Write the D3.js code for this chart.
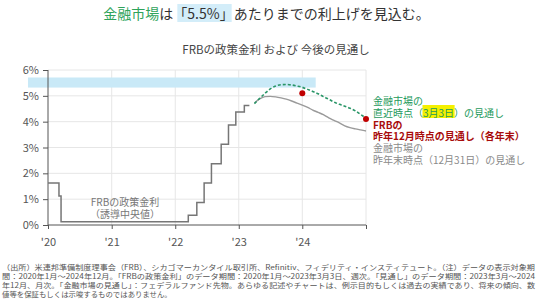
<!DOCTYPE html>
<html>
<head>
<meta charset="utf-8">
<script src="https://cdn.jsdelivr.net/npm/d3@7"></script>
<style>
  body { margin: 0; background: #fff; }
  svg { display: block; font-family: "Noto Sans CJK JP", "Noto Sans", sans-serif; }
</style>
</head>
<body>
<div id="chart"></div>
<script>
// ---- data ----
var yTicks = [0, 1, 2, 3, 4, 5, 6];
var xTickYears = [2020, 2021, 2022, 2023, 2024, 2025];
var xTickLabels = ["'20", "'21", "'22", "'23", "'24", ""];

// FRB policy rate (target midpoint), change dates
var fedDates = ["2020-01-01", "2020-03-04", "2020-03-16", "2022-03-17", "2022-05-05", "2022-06-16",
                "2022-07-28", "2022-09-22", "2022-11-03", "2022-12-15", "2023-02-02", "2023-03-03"];
var fedRates = [1.625, 1.125, 0.125, 0.375, 0.875, 1.625, 2.375, 3.125, 3.875, 4.375, 4.625, 4.625];

// outlook months (month end), Mar 2023 - Dec 2024
var outlookMonths = ["2023-04-01", "2023-05-01", "2023-06-01", "2023-07-01", "2023-08-01", "2023-09-01",
                     "2023-10-01", "2023-11-01", "2023-12-01", "2024-01-01", "2024-02-01", "2024-03-01",
                     "2024-04-01", "2024-05-01", "2024-06-01", "2024-07-01", "2024-08-01", "2024-09-01",
                     "2024-10-01", "2024-11-01", "2024-12-01", "2025-01-01"];
// market outlook as of Mar 3
var marketNow = [4.70, 4.90, 5.10, 5.27, 5.38, 5.43, 5.44, 5.42, 5.38, 5.33, 5.25, 5.17,
                 5.08, 4.97, 4.87, 4.76, 4.67, 4.60, 4.52, 4.42, 4.28, 4.14];
// market outlook as of last year end (Dec 31)
var marketYearEnd = [4.72, 4.88, 4.97, 4.98, 4.96, 4.92, 4.87, 4.80, 4.72, 4.64, 4.55, 4.45,
                     4.36, 4.27, 4.15, 4.05, 3.95, 3.84, 3.77, 3.72, 3.68, 3.64];
// FRB Dec projections (year end)
var frbDates = ["2024-01-01", "2025-01-01"];
var frbValues = [5.1, 4.1];

// highlight band 5.5% area
var bandDates = ["2019-09-08", "2024-03-18"];
var bandRange = [5.32, 5.71];

var parse = d3.timeParse("%Y-%m-%d");

var width = 540, height = 303;
var svg = d3.select("#chart").append("svg")
    .attr("width", width)
    .attr("height", height);

var x = d3.scaleTime()
    .domain([new Date(2020, 0, 1), new Date(2025, 0, 1)])
    .range([48, 366]);
var y = d3.scaleLinear()
    .domain([0, 6])
    .range([225, 70]);

// ---- title ----
function drawRun(g, parts, cx, baseline, size, weight) {
    var t = g.append("text").attr("y", baseline)
        .attr("font-size", size).attr("font-weight", weight || 400);
    parts.forEach(function(p) {
        t.append("tspan").attr("fill", p.color).text(p.text);
    });
    var w = t.node().getComputedTextLength();
    t.attr("x", cx - w / 2);
    return t;
}

var titleG = svg.append("g");
var titleParts = [
    { text: "金融市場", color: "#2ea35a" },
    { text: "は", color: "#333" },
    { text: "「5.5%」", color: "#333" },
    { text: "あたりまでの利上げを見込む。", color: "#333" }
];
var tn = drawRun(titleG, titleParts, 266.5, 18.5, 14).node();
// highlight box behind 「5.5%」
var start = "金融市場は".length;
var s0 = tn.getStartPositionOfChar(start).x;
var e0 = tn.getEndPositionOfChar(start + "「5.5%」".length - 1).x;
titleG.insert("rect", "text")
    .attr("x", s0 + 4).attr("y", 4)
    .attr("width", e0 - s0 - 6).attr("height", 18)
    .attr("fill", "#d3edf9");

svg.append("text")
    .attr("x", 276).attr("y", 54)
    .attr("text-anchor", "middle")
    .attr("font-size", 11.5)
    .attr("fill", "#444")
    .text("FRBの政策金利 および 今後の見通し");

// ---- grid ----
svg.append("g").selectAll("line.h")
    .data(yTicks.slice(1))
    .enter().append("line")
    .attr("x1", x.range()[0]).attr("x2", x.range()[1])
    .attr("y1", function(d) { return y(d); }).attr("y2", function(d) { return y(d); })
    .attr("stroke", "#e6e6e6").attr("stroke-width", 1);

svg.append("g").selectAll("line.v")
    .data(xTickYears.slice(1))
    .enter().append("line")
    .attr("x1", function(d) { return x(new Date(d, 0, 1)); })
    .attr("x2", function(d) { return x(new Date(d, 0, 1)); })
    .attr("y1", y(6)).attr("y2", y(0))
    .attr("stroke", "#e6e6e6").attr("stroke-width", 1);

// band
svg.append("rect")
    .attr("x", x(parse(bandDates[0])))
    .attr("width", x(parse(bandDates[1])) - x(parse(bandDates[0])))
    .attr("y", y(bandRange[1]))
    .attr("height", y(bandRange[0]) - y(bandRange[1]))
    .attr("fill", "#c9e9f7");

// ---- axes ----
var yAxis = d3.axisLeft(y).tickValues(yTicks)
    .tickFormat(function(d) { return d + "%"; })
    .tickSize(5).tickPadding(4);
var yg = svg.append("g").attr("transform", "translate(48,0)").call(yAxis);
yg.select(".domain").attr("stroke", "#555").attr("d", "M0," + y(6) + "V" + y(0));
yg.selectAll(".tick line").attr("stroke", "#555");
yg.selectAll(".tick text").attr("font-size", 11).attr("fill", "#555")
    .attr("font-family", "Noto Sans CJK JP");

var xAxis = d3.axisBottom(x)
    .tickValues(xTickYears.map(function(d) { return new Date(d, 0, 1); }))
    .tickFormat(function(d, i) { return xTickLabels[i]; })
    .tickSize(4).tickPadding(9);
var xg = svg.append("g").attr("transform", "translate(0,225)").call(xAxis);
xg.select(".domain").attr("stroke", "#555").attr("d", "M48,0H366");
xg.selectAll(".tick line").attr("stroke", "#555");
xg.selectAll(".tick text").attr("font-size", 11).attr("fill", "#555")
    .attr("font-family", "Noto Sans CJK JP");

// ---- lines ----
var fedData = fedDates.map(function(d, i) { return { date: parse(d), v: fedRates[i] }; });
svg.append("path")
    .datum(fedData)
    .attr("fill", "none")
    .attr("stroke", "#767676")
    .attr("stroke-width", 1.5)
    .attr("d", d3.line().curve(d3.curveStepAfter)
        .x(function(d) { return x(d.date); })
        .y(function(d) { return y(d.v); }));

var lineGen = d3.line().curve(d3.curveMonotoneX)
    .x(function(d) { return x(d.date); })
    .y(function(d) { return y(d.v); });

var yearEndData = outlookMonths.map(function(d, i) { return { date: parse(d), v: marketYearEnd[i] }; });
svg.append("path")
    .datum(yearEndData)
    .attr("fill", "none")
    .attr("stroke", "#9a9a9a")
    .attr("stroke-width", 1.4)
    .attr("d", lineGen);

var nowData = outlookMonths.map(function(d, i) { return { date: parse(d), v: marketNow[i] }; });
svg.append("path")
    .datum(nowData)
    .attr("fill", "none")
    .attr("stroke", "#2a9668")
    .attr("stroke-width", 1.6)
    .attr("stroke-dasharray", "3,2")
    .attr("d", lineGen);

svg.selectAll("circle.frb")
    .data(frbDates.map(function(d, i) { return { date: parse(d), v: frbValues[i] }; }))
    .enter().append("circle")
    .attr("cx", function(d) { return x(d.date); })
    .attr("cy", function(d) { return y(d.v); })
    .attr("r", 3)
    .attr("fill", "#c00000");

// ---- labels ----
svg.append("text").attr("x", 125).attr("y", 205.5).attr("text-anchor", "middle")
    .attr("font-size", 10).attr("fill", "#777").text("FRBの政策金利");
svg.append("text").attr("x", 125).attr("y", 218).attr("text-anchor", "middle")
    .attr("font-size", 10).attr("fill", "#777").text("（誘導中央値）");

var lx = 373;
var lab = [
    { t: "金融市場の", c: "#1e9a5c", w: 400 },
    { t: "直近時点（3月3日）の見通し", c: "#1e9a5c", w: 400 },
    { t: "FRBの", c: "#a80c0c", w: 700 },
    { t: "昨年12月時点の見通し（各年末）", c: "#a80c0c", w: 700 },
    { t: "金融市場の", c: "#8a8a8a", w: 400 },
    { t: "昨年末時点（12月31日）の見通し", c: "#8a8a8a", w: 400 }
];
var labG = svg.append("g");
lab.forEach(function(l, i) {
    labG.append("text")
        .attr("x", lx).attr("y", 105.2 + i * 11.66)
        .attr("font-size", 10)
        .attr("font-weight", l.w)
        .attr("fill", l.c)
        .text(l.t);
});
// yellow highlight on 3月3日
var hl = labG.selectAll("text").nodes()[1];
var hs = hl.getStartPositionOfChar(5).x;
var he = hl.getEndPositionOfChar(8).x;
labG.insert("rect", "text")
    .attr("x", hs - 0.5).attr("y", 105)
    .attr("width", he - hs + 1).attr("height", 13)
    .attr("fill", "#f4f000");

// ---- footnote ----
var notes = [
    "（出所）米連邦準備制度理事会（FRB）、シカゴマーカンタイル取引所、Refinitiv、フィデリティ・インスティテュート。（注）データの表示対象期",
    "間：2020年1月～2024年12月。「FRBの政策金利」のデータ期間：2020年1月～2023年3月3日、週次。「見通し」のデータ期間：2023年3月～2024",
    "年12月、月次。「金融市場の見通し」：フェデラルファンド先物。あらゆる記述やチャートは、例示目的もしくは過去の実績であり、将来の傾向、数",
    "値等を保証もしくは示唆するものではありません。"
];
var ng = svg.append("g");
notes.forEach(function(n, i) {
    var t = ng.append("text")
        .attr("x", 2).attr("y", 269.7 + i * 9.1)
        .attr("font-size", 7.4)
        .attr("fill", "#555")
        .text(n);
    if (i < 3) t.attr("textLength", 533).attr("lengthAdjust", "spacingAndGlyphs");
});
</script>
</body>
</html>
